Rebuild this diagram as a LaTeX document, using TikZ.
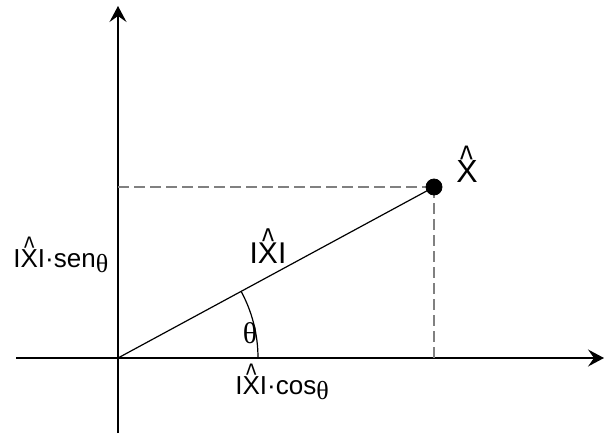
\documentclass[tikz,border=0pt]{standalone}
\usepackage{fontspec}
\usepackage{graphicx}
\setmainfont{Liberation Sans}
\newfontfamily\thetafont{Liberation Serif}
\usetikzlibrary{arrows.meta}
\newcommand{\hatX}{\leavevmode\setbox0\hbox{X}\rlap{\makebox[\wd0]{\raisebox{0.31em}{\scalebox{0.85}[1.2]{\textasciicircum}}}}X}
\newcommand{\modX}{I\hatX I}
\newcommand{\sub}{\raisebox{-2.5pt}{\thetafont θ}}

\begin{document}
\begin{tikzpicture}[x=0.5pt,y=0.5pt,
		axis/.style={line width=0.6pt, -{Stealth[length=8pt,width=8.5pt,inset=3pt]}},
		guide/.style={gray, line width=0.6pt, dash pattern=on 5.5pt off 2.5pt},
		lbl/.style={inner sep=0pt, font=\fontsize{13}{15}\selectfont}]
		\useasboundingbox (0,0) rectangle (604,435);
		\coordinate (O) at (118,77);
		\coordinate (xl) at (16,77);
		\coordinate (xr) at (604,77);
		\coordinate (yb) at (118,2);
		\coordinate (yt) at (118,429);
		\coordinate (P) at (434,248);
		\coordinate (Px) at (434,77);
		\coordinate (Py) at (118,248);
		\coordinate (A) at (258,77);
		% axes
		\draw[axis] (xl) -- (xr);
		\draw[axis] (yb) -- (yt);
		% projections
		\draw[guide] (Py) -- (P);
		\draw[guide] (P) -- (Px);
		\draw[line width=0.6pt] (O) -- (P);
		\draw[line width=0.6pt] (A) arc[start angle=0, end angle=28.4, radius=70pt];
		\filldraw[black] (P) circle (4pt);
		% labels
		\node[lbl, anchor=base, font=\fontsize{16}{18}\selectfont] (xhat) at (467,253) {\hatX};
		\node[lbl, anchor=base, font=\fontsize{15}{17}\selectfont] (mod) at (268,172) {\modX};
		\node[lbl, anchor=base, font=\fontsize{15}{17}\thetafont] (ang) at (250,92) {θ};
		\node[lbl, anchor=base west] (ysen) at (13,168) {\modX·sen\sub};
		\node[lbl, anchor=base west] (xcos) at (235,41) {\modX·cos\sub};
	\end{tikzpicture}
\end{document}
